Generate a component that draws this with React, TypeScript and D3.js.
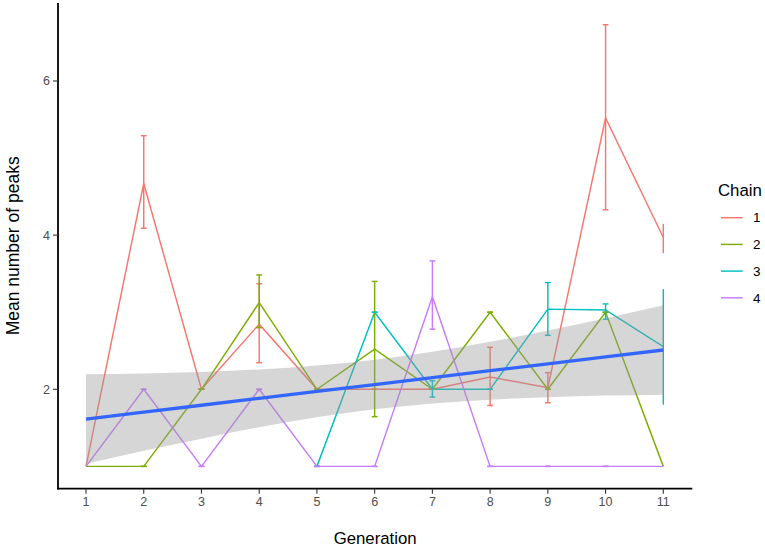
import React from "react";
import * as d3 from "d3";

const generations = [1, 2, 3, 4, 5, 6, 7, 8, 9, 10, 11];
const chains = ["1", "2", "3", "4"];
const chainColors = ["#F8766D", "#7CAE00", "#00BFC4", "#C77CFF"];

const chain1Mean = [1, 4.67, 2, 2.845, 2, 2, 2, 2.16, 2.02, 5.52, 3.97];
const chain1Lower = [1, 4.09, 2, 2.345, 2, 2, 2, 1.79, 1.826, 4.33, 3.766];
const chain1Upper = [1, 5.29, 2, 3.37, 2, 2, 2, 2.545, 2.216, 6.73, 4.147];

const chain2Mean = [1, 1, 2, 3.125, 2, 2.52, 2, 3, 2, 3, 1];
const chain2Lower = [1, 1, 2, 2.8, 2, 1.645, 2, 3, 2, 3, 1];
const chain2Upper = [1, 1, 2, 3.484, 2, 3.4, 2, 3, 2, 3, 1];

const chain3Mean = [null, null, null, null, 1, 3.0, 2.0, 2.0, 3.04, 3.03, 2.553];
const chain3Lower = [null, null, null, null, 1, 3.0, 1.9, 2.0, 2.7, 2.91, 1.8];
const chain3Upper = [null, null, null, null, 1, 3.0, 2.11, 2.0, 3.385, 3.108, 3.3];

const chain4Mean = [1, 2, 1, 2, 1, 1, 3.2, 1, 1, 1, 1];
const chain4Lower = [1, 2, 1, 2, 1, 1, 2.78, 1, 1, 1, 1];
const chain4Upper = [1, 2, 1, 2, 1, 1, 3.666, 1, 1, 1, 1];

const fitLine = [1.614, 1.704, 1.793, 1.883, 1.972, 2.062, 2.152, 2.241, 2.331, 2.42, 2.51];
const ribbonLower = [1.034, 1.202, 1.36, 1.508, 1.636, 1.74, 1.816, 1.866, 1.898, 1.918, 1.93];
const ribbonUpper = [2.194, 2.206, 2.226, 2.258, 2.308, 2.384, 2.488, 2.616, 2.764, 2.922, 3.09];

const yTicks = [2, 4, 6];

const means = [chain1Mean, chain2Mean, chain3Mean, chain4Mean];
const lowers = [chain1Lower, chain2Lower, chain3Lower, chain4Lower];
const uppers = [chain1Upper, chain2Upper, chain3Upper, chain4Upper];

export default function App() {
  const W = 765;
  const H = 548;
  const panelLeft = 58;
  const panelRight = 692.3;
  const panelTop = 3;
  const panelBottom = 488.7;

  const x = d3.scaleLinear().domain([1, 11]).range([86, 663.3]);
  const y = d3.scaleLinear().domain([2, 6]).range([389.3, 81]);

  const line = d3
    .line<[number, number | null]>()
    .defined((d) => d[1] != null)
    .x((d) => x(d[0]))
    .y((d) => y(d[1] as number));

  const area = d3
    .area<number>()
    .x((_, i) => x(generations[i]))
    .y0((_, i) => y(ribbonLower[i]))
    .y1((_, i) => y(ribbonUpper[i]))
    .curve(d3.curveMonotoneX);

  const fit = d3
    .line<number>()
    .x((_, i) => x(generations[i]))
    .y((d) => y(d));

  const capHalf = x(1.05) - x(1);
  const font = "'Liberation Sans', Arial, Helvetica, sans-serif";
  const lw = 1.45;

  return (
    <div style={{ position: "absolute", left: 0, top: 0 }}>
      <svg width={W} height={H} style={{ display: "block", background: "#fff" }}>
        {chains.map((c, ci) => (
          <path
            key={"l" + c}
            d={line(generations.map((g, i) => [g, means[ci][i]]) as any) || ""}
            fill="none"
            stroke={chainColors[ci]}
            strokeWidth={lw}
          />
        ))}
        {chains.map((c, ci) => (
          <g key={"e" + c} stroke={chainColors[ci]} strokeWidth={lw}>
            {generations.map((g, i) => {
              const lo = lowers[ci][i];
              const hi = uppers[ci][i];
              if (lo == null || hi == null || i === 0) return null;
              const cx = x(g);
              const withCaps = i !== generations.length - 1;
              return (
                <g key={g}>
                  <line x1={cx} x2={cx} y1={y(lo)} y2={y(hi)} />
                  {withCaps && (
                    <>
                      <line x1={cx - capHalf} x2={cx + capHalf} y1={y(lo)} y2={y(lo)} />
                      <line x1={cx - capHalf} x2={cx + capHalf} y1={y(hi)} y2={y(hi)} />
                    </>
                  )}
                </g>
              );
            })}
          </g>
        ))}
        <path d={area(ribbonLower) || ""} fill="#999999" fillOpacity={0.4} />
        <path d={fit(fitLine) || ""} fill="none" stroke="#3366FF" strokeWidth={3.3} />

        <line x1={panelLeft} x2={panelLeft} y1={panelTop} y2={panelBottom + 0.9} stroke="#000" strokeWidth={1.8} />
        <line x1={panelLeft - 0.9} x2={panelRight} y1={panelBottom} y2={panelBottom} stroke="#000" strokeWidth={1.8} />
        {yTicks.map((t) => (
          <g key={"yt" + t}>
            <line x1={panelLeft - 5} x2={panelLeft} y1={y(t)} y2={y(t)} stroke="#333" strokeWidth={1.1} />
            <text x={panelLeft - 8} y={y(t)} dy="0.35em" textAnchor="end" fontFamily={font} fontSize={12.5} fill="#4D4D4D">
              {t}
            </text>
          </g>
        ))}
        {generations.map((g) => (
          <g key={"xt" + g}>
            <line x1={x(g)} x2={x(g)} y1={panelBottom} y2={panelBottom + 5} stroke="#333" strokeWidth={1.1} />
            <text x={x(g)} y={506} textAnchor="middle" fontFamily={font} fontSize={12.5} fill="#4D4D4D">
              {g}
            </text>
          </g>
        ))}
        <text x={(panelLeft + panelRight) / 2} y={544} textAnchor="middle" fontFamily={font} fontSize={16.8} fill="#000">
          Generation
        </text>
        <text
          transform={`translate(${18.5},${(panelTop + panelBottom) / 2}) rotate(-90)`}
          textAnchor="middle"
          fontFamily={font}
          fontSize={17.5}
          fill="#000"
        >
          Mean number of peaks
        </text>

        <text x={718} y={196} fontFamily={font} fontSize={16.8} fill="#000">
          Chain
        </text>
        {chains.map((c, ci) => {
          const ly = 217.7 + ci * 26.7;
          return (
            <g key={"lg" + c}>
              <line x1={721} x2={742.7} y1={ly} y2={ly} stroke={chainColors[ci]} strokeWidth={lw} />
              <text x={753} y={ly} dy="0.35em" fontFamily={font} fontSize={13.5} fill="#000">
                {c}
              </text>
            </g>
          );
        })}
      </svg>
    </div>
  );
}
